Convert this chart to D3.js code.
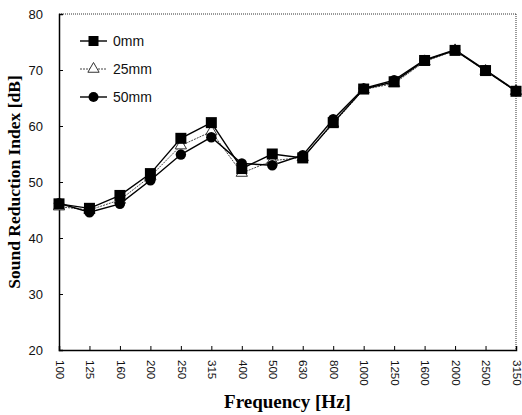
<!DOCTYPE html>
<html>
<head>
<meta charset="utf-8">
<script src="https://cdn.jsdelivr.net/npm/d3@7"></script>
<style>
  body { margin: 0; background: #fff; }
  svg { display: block; }
</style>
</head>
<body>
<div id="chart"></div>
<script>
// data
const freqs = ["100", "125", "160", "200", "250", "315", "400", "500", "630",
    "800", "1000", "1250", "1600", "2000", "2500", "3150"];
const mm0 = [46.1, 45.3, 47.6, 51.5, 57.8, 60.6, 52.4, 55.0, 54.3, 60.6, 66.6, 67.9, 71.7, 73.5, 69.9, 66.2];
const mm25 = [45.6, 45.0, 46.8, 51.0, 56.5, 59.0, 51.6, 53.8, 54.4, 60.4, 66.5, 67.6, 71.5, 73.5, 69.8, 66.2];
const mm50 = [46.2, 44.6, 46.1, 50.3, 54.9, 58.0, 53.3, 53.0, 54.8, 61.2, 66.7, 68.2, 71.8, 73.6, 70.0, 66.3];
const yTicks = [20, 30, 40, 50, 60, 70, 80];
const seriesNames = ["0mm", "25mm", "50mm"];

const W = 522, H = 415;
const margin = { left: 59, right: 6, top: 14, bottom: 65 };
const width = W - margin.left - margin.right;
const height = H - margin.top - margin.bottom;

let svg = d3.select("#chart").append("svg")
    .attr("width", W).attr("height", H);

let g = svg.append("g")
    .attr("transform", `translate(${margin.left},${margin.top})`);

const x = d3.scalePoint().domain(freqs).range([0, width]);
const y = d3.scaleLinear().domain([20, 80]).range([height, 0]);

//frame: solid left/bottom, dotted top/right like the scan
g.append("line").attr("x1", 0).attr("x2", width).attr("y1", 0).attr("y2", 0)
    .attr("stroke", "#333").attr("stroke-width", 1).attr("stroke-dasharray", "1,1");
g.append("line").attr("x1", width).attr("x2", width).attr("y1", 0).attr("y2", height)
    .attr("stroke", "#333").attr("stroke-width", 1).attr("stroke-dasharray", "1,1");

//y axis
let yAxis = g.append("g")
    .call(d3.axisLeft(y).tickValues(yTicks).tickSize(-4).tickPadding(16));
yAxis.select(".domain").attr("stroke", "#000").attr("stroke-width", 1.5);
yAxis.selectAll(".tick line").attr("stroke", "#000");
yAxis.selectAll("text")
    .style("font-family", "Liberation Sans, Arial, sans-serif")
    .style("font-size", "13px").attr("fill", "#111");

//x axis
let xAxis = g.append("g")
    .attr("transform", `translate(0,${height})`)
    .call(d3.axisBottom(x).tickSize(-4).tickPadding(8));
xAxis.select(".domain").attr("stroke", "#000").attr("stroke-width", 1.5);
xAxis.selectAll(".tick line").attr("stroke", "#000");
xAxis.selectAll("text")
    .style("font-family", "Liberation Sans, Arial, sans-serif")
    .style("font-size", "11.5px").attr("fill", "#111")
    .attr("transform", "rotate(90)")
    .attr("text-anchor", "start")
    .attr("x", 10).attr("y", 0).attr("dy", "0.33em");

//axis titles
svg.append("text")
    .attr("transform", `translate(20,${margin.top + height / 2}) rotate(-90)`)
    .attr("text-anchor", "middle")
    .style("font-family", "Liberation Serif, Times New Roman, serif")
    .style("font-weight", "bold").style("font-size", "17.5px")
    .text("Sound Reduction Index [dB]");

svg.append("text")
    .attr("x", margin.left + width / 2).attr("y", 408)
    .attr("text-anchor", "middle")
    .style("font-family", "Liberation Serif, Times New Roman, serif")
    .style("font-weight", "bold").style("font-size", "19px")
    .text("Frequency [Hz]");

const line = d3.line().x((d, i) => x(freqs[i])).y((d) => y(d));

//25mm: thin dotted line with open triangles
g.append("path").datum(mm25).attr("d", line)
    .attr("fill", "none").attr("stroke", "#444").attr("stroke-width", 1)
    .attr("stroke-dasharray", "2,1");
//50mm
g.append("path").datum(mm50).attr("d", line)
    .attr("fill", "none").attr("stroke", "#000").attr("stroke-width", 1.4);
//0mm
g.append("path").datum(mm0).attr("d", line)
    .attr("fill", "none").attr("stroke", "#000").attr("stroke-width", 1.4);

const tri = d3.symbol().type(d3.symbolTriangle).size(55);

g.selectAll(".tri").data(mm25).enter().append("path")
    .attr("class", "tri")
    .attr("d", tri)
    .attr("transform", (d, i) => `translate(${x(freqs[i])},${y(d)})`)
    .attr("fill", "#fff").attr("stroke", "#333").attr("stroke-width", 1);

g.selectAll(".dot").data(mm50).enter().append("circle")
    .attr("class", "dot")
    .attr("cx", (d, i) => x(freqs[i])).attr("cy", (d) => y(d))
    .attr("r", 5.2).attr("fill", "#000");

g.selectAll(".sq").data(mm0).enter().append("rect")
    .attr("class", "sq")
    .attr("x", (d, i) => x(freqs[i]) - 5.5).attr("y", (d) => y(d) - 5.5)
    .attr("width", 11).attr("height", 11).attr("fill", "#000");

//legend
let legend = svg.append("g").attr("transform", "translate(80,41)");
seriesNames.forEach((name, i) => {
    let row = legend.append("g").attr("transform", `translate(0,${i * 28})`);
    row.append("line").attr("x1", 0).attr("x2", 27).attr("y1", 0).attr("y2", 0)
        .attr("stroke", i === 1 ? "#444" : "#000")
        .attr("stroke-width", i === 1 ? 1 : 1.4)
        .attr("stroke-dasharray", i === 1 ? "2,1" : null);
    if (i === 0) {
        row.append("rect").attr("x", 8.5).attr("y", -5).attr("width", 10).attr("height", 10).attr("fill", "#000");
    } else if (i === 1) {
        row.append("path").attr("d", tri).attr("transform", "translate(13.5,0)")
            .attr("fill", "#fff").attr("stroke", "#333");
    } else {
        row.append("circle").attr("cx", 13.5).attr("cy", 0).attr("r", 5).attr("fill", "#000");
    }
    row.append("text").attr("x", 33).attr("y", 0).attr("dy", "0.35em")
        .style("font-family", "Liberation Sans, Arial, sans-serif")
        .style("font-size", "14px").attr("fill", "#111")
        .text(name);
});
</script>
</body>
</html>
